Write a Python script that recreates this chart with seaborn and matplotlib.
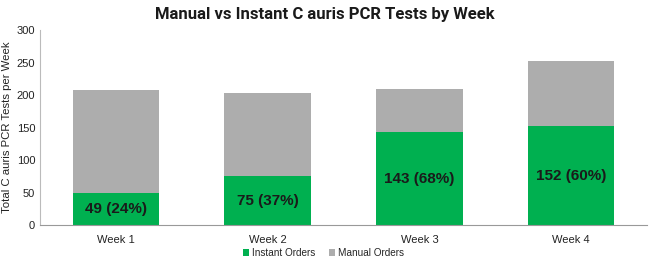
import matplotlib
matplotlib.use("Agg")
import matplotlib.pyplot as plt
import seaborn as sns
import pandas as pd

weeks = ["Week 1", "Week 2", "Week 3", "Week 4"]
instant = [49, 75, 143, 152]
manual = [159, 129, 66, 101]
pct_labels = ["49 (24%)", "75 (37%)", "143 (68%)", "152 (60%)"]
totals = [i + m for i, m in zip(instant, manual)]

df = pd.DataFrame({"week": weeks, "instant": instant, "manual": manual, "total": totals})

sns.set_style("white")
plt.rcParams['font.family'] = ['Liberation Sans', 'DejaVu Sans']

fig = plt.figure(figsize=(6.5, 2.62), dpi=100)
ax = fig.add_axes([0.0615, 0.141, 0.934, 0.744])

green = "#00B050"
gray = "#ADADAD"

sns.barplot(data=df, x="week", y="total", color=gray, width=0.57, saturation=1,
            label="Manual Orders", ax=ax, linewidth=0)
sns.barplot(data=df, x="week", y="instant", color=green, width=0.57, saturation=1,
            label="Instant Orders", ax=ax, linewidth=0)
if ax.get_legend() is not None:
    ax.get_legend().remove()

for i, (v, lab) in enumerate(zip(instant, pct_labels)):
    ax.text(i, v / 2, lab, ha="center", va="center", fontsize=11, fontweight="bold",
            color="#1a1a1a")

ax.set_xlim(-0.5, 3.5)
ax.set_ylim(0, 300)
ax.set_yticks(range(0, 301, 50))
ax.set_xlabel("")
ax.set_ylabel("Total C auris PCR Tests per Week", fontsize=8.2, color="#222222", labelpad=3)
ax.tick_params(axis="both", length=0, labelsize=8, colors="#222222")
ax.tick_params(axis="x", pad=7)
for s in ["top", "right"]:
    ax.spines[s].set_visible(False)
ax.spines["left"].set_color("#BBBBBB")
ax.spines["bottom"].set_color("#999999")
ax.spines["left"].set_linewidth(0.8)
ax.spines["bottom"].set_linewidth(0.8)

handles, labels = ax.get_legend_handles_labels()
order = [labels.index("Instant Orders"), labels.index("Manual Orders")]
fig.legend([handles[k] for k in order], [labels[k] for k in order],
           loc="center", bbox_to_anchor=(0.498, 0.034), ncol=2, frameon=False,
           fontsize=7.2, handlelength=0.6, handleheight=0.6, handletextpad=0.3,
           columnspacing=1.4, borderpad=0)

fig.text(0.5, 0.945, "Manual vs Instant C auris PCR Tests by Week", ha="center",
         va="center", fontsize=12, fontweight="bold", family="Roboto", color="#1a1a1a")

fig.savefig("out.png", dpi=100)
